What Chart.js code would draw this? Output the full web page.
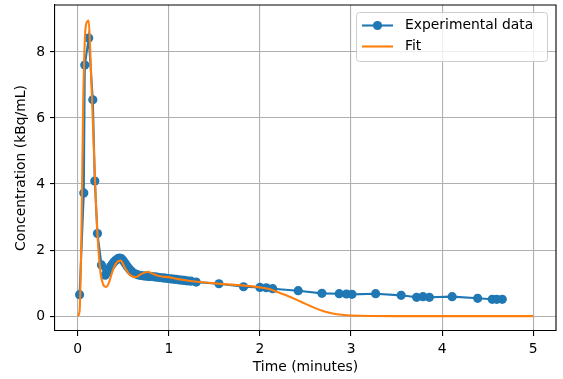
<!DOCTYPE html>
<html>
<head>
<meta charset="utf-8">
<script src="https://cdn.jsdelivr.net/npm/chart.js@4.4.1/dist/chart.umd.min.js"></script>
<style>
  html, body { margin: 0; padding: 0; background: #fff; }
  #wrap { width: 563px; height: 379px; }
</style>
</head>
<body>
<div id="wrap"><canvas id="conc" width="563" height="379"></canvas></div>
<script>
// measured points (minutes, kBq/mL)
const expTime = [0.02, 0.066, 0.077, 0.12, 0.165, 0.187, 0.216, 0.26, 0.30, 0.32, 0.34, 0.36, 0.38, 0.40,
  0.42, 0.44, 0.46, 0.48, 0.50, 0.52, 0.54, 0.56, 0.58, 0.60, 0.63, 0.66, 0.69, 0.72, 0.75, 0.78, 0.81,
  0.84, 0.87, 0.90, 0.93, 0.96, 0.99, 1.02, 1.05, 1.08, 1.11, 1.14, 1.17, 1.20, 1.24, 1.30, 1.55, 1.82,
  2.0, 2.07, 2.14, 2.42, 2.68, 2.87, 2.95, 3.01, 3.27, 3.55, 3.72, 3.79, 3.86, 4.11, 4.39, 4.55, 4.60, 4.66]
const expConc = [0.65, 3.73, 7.6, 8.42, 6.55, 4.09, 2.5, 1.55, 1.24, 1.32, 1.42, 1.5, 1.58, 1.65,
  1.7, 1.74, 1.76, 1.74, 1.68, 1.6, 1.52, 1.45, 1.38, 1.33, 1.28, 1.25, 1.23, 1.22, 1.21, 1.2, 1.2,
  1.19, 1.18, 1.17, 1.16, 1.15, 1.14, 1.13, 1.12, 1.11, 1.1, 1.09, 1.08, 1.07, 1.06, 1.03, 0.98, 0.89,
  0.87, 0.86, 0.83, 0.77, 0.69, 0.68, 0.67, 0.66, 0.68, 0.63, 0.57, 0.59, 0.57, 0.59, 0.54, 0.51, 0.51, 0.51]

// fitted curve
const fitTime = [0, 0.02, 0.04, 0.06, 0.08, 0.10, 0.12, 0.14, 0.16, 0.18, 0.20, 0.22, 0.25, 0.28, 0.31,
  0.34, 0.38, 0.42, 0.47, 0.52, 0.57, 0.63, 0.70, 0.77, 0.84, 0.92, 1.0, 1.1, 1.2, 1.4, 1.6, 1.8, 2.0,
  2.1, 2.2, 2.3, 2.4, 2.5, 2.6, 2.7, 2.8, 2.9, 3.0, 3.5, 4.0, 4.5, 5.0]
const fitConc = [0, 0.15, 2.5, 6.5, 8.5, 8.9, 8.95, 7.8, 6.3, 4.8, 3.4, 2.3, 1.3, 0.95, 0.88,
  1.0, 1.35, 1.6, 1.68, 1.45, 1.25, 1.18, 1.28, 1.34, 1.26, 1.2, 1.18, 1.12, 1.08, 1.02, 0.97, 0.93, 0.87,
  0.82, 0.72, 0.62, 0.5, 0.37, 0.25, 0.15, 0.08, 0.04, 0.02, 0, 0, 0, 0]

const xTicks = [0, 1, 2, 3, 4, 5]
const yTicks = [0, 2, 4, 6, 8]
const seriesNames = ['Experimental data', 'Fit']

const blue = '#1f77b4'
const orange = '#ff7f0e'
const font = { family: 'DejaVu Sans', size: 13.9 }

Chart.defaults.font.family = 'DejaVu Sans'
Chart.defaults.color = '#000'

// top/right spines and a matplotlib style legend box
const frame = {
  id: 'frame',
  afterDraw(chart) {
    const ctx = chart.ctx
    const a = chart.chartArea
    ctx.save()
    ctx.strokeStyle = '#000'
    ctx.lineWidth = 1.1
    ctx.beginPath()
    ctx.moveTo(a.left, a.top)
    ctx.lineTo(a.right, a.top)
    ctx.lineTo(a.right, a.bottom)
    ctx.stroke()

    // legend
    let bx = 356.5, by = 12.5, bw = 191, bh = 49
    ctx.fillStyle = 'rgba(255,255,255,0.8)'
    ctx.strokeStyle = '#cccccc'
    ctx.lineWidth = 1
    ctx.beginPath()
    ctx.roundRect(bx, by, bw, bh, 3)
    ctx.fill()
    ctx.stroke()

    ctx.lineWidth = 2.1
    ctx.strokeStyle = blue
    ctx.beginPath()
    ctx.moveTo(362, 25.5)
    ctx.lineTo(393, 25.5)
    ctx.stroke()
    ctx.fillStyle = blue
    ctx.beginPath()
    ctx.arc(377.5, 25.5, 4.6, 0, Math.PI * 2)
    ctx.fill()

    ctx.strokeStyle = orange
    ctx.beginPath()
    ctx.moveTo(362, 46.5)
    ctx.lineTo(393, 46.5)
    ctx.stroke()

    ctx.fillStyle = '#000'
    ctx.font = '13.9px "DejaVu Sans"'
    ctx.textBaseline = 'middle'
    ctx.fillText(seriesNames[0], 405, 25.5)
    ctx.fillText(seriesNames[1], 405, 46.5)
    ctx.restore()
  }
}

new Chart('conc', {
  type: 'line',
  data: {
    datasets: [
      {
        label: seriesNames[1],
        data: fitTime.map((t, i) => ({ x: t, y: fitConc[i] })),
        borderColor: orange,
        borderWidth: 2.1,
        pointRadius: 0,
        cubicInterpolationMode: 'monotone',
        fill: false,
        order: 0
      },
      {
        label: seriesNames[0],
        data: expTime.map((t, i) => ({ x: t, y: expConc[i] })),
        borderColor: blue,
        backgroundColor: blue,
        borderWidth: 2.1,
        pointRadius: 4.6,
        pointBorderWidth: 0,
        pointBackgroundColor: blue,
        fill: false,
        order: 1
      }
    ]
  },
  options: {
    responsive: false,
    animation: false,
    layout: { padding: { top: 5, right: 7, left: 0, bottom: 0 } },
    plugins: { legend: { display: false }, tooltip: { enabled: false } },
    scales: {
      x: {
        type: 'linear',
        min: -0.25,
        max: 5.25,
        afterBuildTicks: s => { s.ticks = xTicks.map(v => ({ value: v })) },
        afterFit: s => { s.height = 48; s.paddingLeft = 0; s.paddingRight = 0 },
        ticks: { font: font, color: '#000', padding: 5, maxRotation: 0 },
        grid: { color: '#b0b0b0', lineWidth: 1.1, tickColor: '#000', tickLength: 5 },
        border: { color: '#000', width: 1.1 },
        title: { display: true, text: 'Time (minutes)', font: font, color: '#000', padding: { top: 0, bottom: 3 } }
      },
      y: {
        type: 'linear',
        min: -0.45,
        max: 9.42,
        afterBuildTicks: s => { s.ticks = yTicks.map(v => ({ value: v })) },
        afterFit: s => { s.width = 55; s.paddingTop = 0; s.paddingBottom = 0 },
        ticks: { font: font, color: '#000', padding: 5 },
        grid: { color: '#b0b0b0', lineWidth: 1.1, tickColor: '#000', tickLength: 5 },
        border: { color: '#000', width: 1.1 },
        title: { display: true, text: 'Concentration (kBq/mL)', font: font, color: '#000', padding: { top: 13, bottom: 0 } }
      }
    }
  },
  plugins: [frame]
})
</script>
</body>
</html>
